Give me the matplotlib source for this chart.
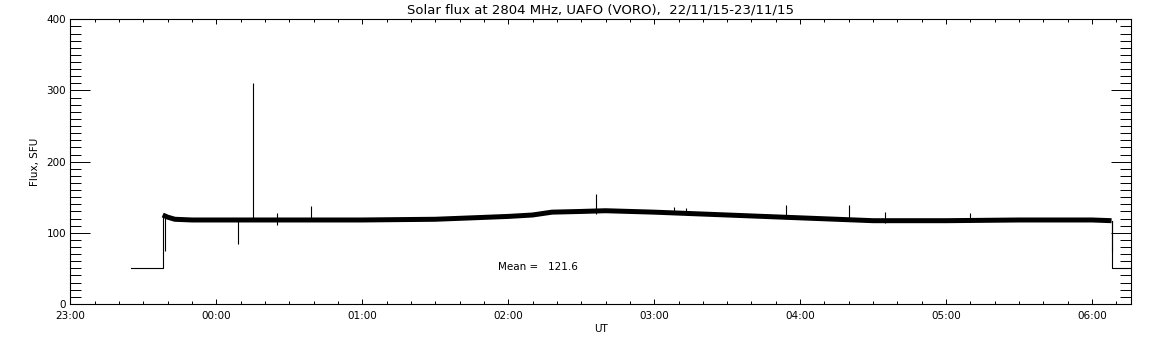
"""
Solar flux at 2804 MHz, UAFO (VORO) - daily radiometer record, 22/11/15-23/11/15.
IDL-style plot: inward ticks on all four sides, thin black lines.
"""

from datetime import datetime, timedelta

import matplotlib
matplotlib.use("Agg")
import matplotlib.dates as mdates
import matplotlib.pyplot as plt
from matplotlib.ticker import MultipleLocator

DAY0 = datetime(2015, 11, 22)

# --- data ("HH:MM", hours >= 12 belong to 22/11) ---------------------------
# calibration / off-sun level before and after the session
off_start_time  = ["23:25", "23:38", "23:38"]
off_start_flux  = [50, 50, 125]
off_end_time    = ["06:08", "06:08", "06:18"]
off_end_flux    = [117, 50, 50]

# smoothed band of the sun signal
band_time = ["23:38", "23:40", "23:43", "23:50", "00:00", "00:30", "01:00",
             "01:30", "01:45", "02:00", "02:10", "02:18", "02:30", "02:40",
             "02:50", "03:00", "03:15", "03:30", "03:45", "04:00", "04:15",
             "04:30", "05:00", "05:30", "06:00", "06:08"]
band_flux = [125, 122, 119, 118, 118, 118, 118,
             119, 121, 123, 125, 129, 130, 131,
             130, 129, 127, 125, 123, 121, 119,
             117, 117, 118, 118, 117]

# short bursts / dropouts: time, low end, high end
spike_time = ["23:39", "00:09", "00:15", "00:25", "00:39", "02:36", "03:08",
              "03:13", "03:54", "04:20", "04:35", "05:10", "06:08"]
spike_lo   = [74, 84, 118, 111, 116, 127, 126, 126, 119, 116, 114, 115, 73]
spike_hi   = [125, 118, 311, 128, 137, 154, 136, 135, 139, 139, 129, 128, 117]

MEAN_FLUX = 121.6

X_START = "23:00"
X_END   = "06:16"


def to_dt(hhmm: str) -> datetime:
    h, m = map(int, hhmm.split(":"))
    day = DAY0 if h >= 12 else DAY0 + timedelta(days=1)
    return day.replace(hour=h, minute=m)


def to_dts(lst):
    return [to_dt(s) for s in lst]


plt.rcParams["font.family"] = ["DejaVu Sans"]
plt.rcParams["font.size"] = 7.5

fig = plt.figure(figsize=(11.52, 3.45), dpi=100)
ax = fig.add_axes([0.061, 0.119, 0.9208, 0.825])

LW = 0.8
ax.plot(to_dts(off_start_time), off_start_flux, color="black", lw=LW)
ax.plot(to_dts(off_end_time), off_end_flux, color="black", lw=LW)
ax.plot(to_dts(band_time), band_flux, color="black", lw=3.6,
        solid_joinstyle="miter", solid_capstyle="butt")
ax.vlines(to_dts(spike_time), spike_lo, spike_hi, color="black", lw=LW)

ax.text(to_dt("01:56"), 52, f"Mean =   {MEAN_FLUX:.1f}", ha="left",
        va="center", fontsize=7.5)

ax.set_xlim(to_dt(X_START), to_dt(X_END))
ax.set_ylim(0, 400)

ax.xaxis.set_major_locator(mdates.HourLocator())
ax.xaxis.set_minor_locator(mdates.MinuteLocator(byminute=range(0, 60, 10)))
ax.xaxis.set_major_formatter(mdates.DateFormatter("%H:%M"))
ax.yaxis.set_major_locator(MultipleLocator(100))
ax.yaxis.set_minor_locator(MultipleLocator(10))

ax.tick_params(axis="x", which="both", direction="in", top=True, bottom=True,
               width=0.7, pad=5, labelsize=7.5)
ax.tick_params(axis="x", which="major", length=3.6)
ax.tick_params(axis="x", which="minor", length=2.2)
ax.tick_params(axis="y", which="both", direction="in", left=True, right=True,
               width=0.7, pad=3, labelsize=7.5)
ax.tick_params(axis="y", which="major", length=14.4)
ax.tick_params(axis="y", which="minor", length=7.7)

for sp in ax.spines.values():
    sp.set_linewidth(0.8)

ax.set_xlabel("UT", fontsize=7.5, labelpad=2)
ax.set_ylabel("Flux, SFU", fontsize=7.5, labelpad=5)
ax.set_title("Solar flux at 2804 MHz, UAFO (VORO),  22/11/15-23/11/15",
             fontsize=9.5, pad=4)

fig.savefig("out.png", dpi=100, facecolor="white")
plt.close(fig)
